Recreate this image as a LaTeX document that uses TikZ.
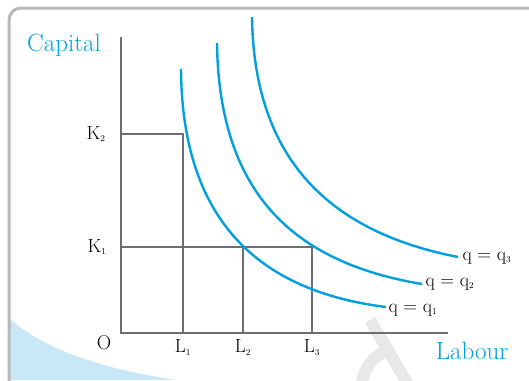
\documentclass[tikz,border=0pt]{standalone}
\usepackage{amsmath}
\usepackage{tikz}
\usetikzlibrary{calc}

\definecolor{isoblue}{RGB}{0,160,222}
\definecolor{axisgray}{RGB}{110,110,114}
\definecolor{swoosh}{RGB}{200,232,248}

\tikzset{
    axis line/.style={axisgray, line width=2.4pt},
    iso curve/.style={isoblue, line width=2.4pt},
    axis label/.style={isoblue, font=\fontsize{25}{27}\selectfont},
    tick label/.style={font=\fontsize{19}{21}\selectfont},
    curve label/.style={font=\fontsize{19}{21}\selectfont, anchor=west}
}

\begin{document}
\begin{tikzpicture}[x=1pt, y=-1pt]

    \useasboundingbox (0,0) rectangle (529,380);

    % Panel background
    \fill[swoosh] (9,318) .. controls (45,350) and (100,368) .. (175,380) -- (9,380) -- cycle;
    \draw[gray!18, line width=12pt] (370,320) -- (409,386);
    \draw[gray!18, line width=12pt] (388,350) .. controls (372,357) and (364,368) .. (361,386);
    \draw[gray!55, line width=3pt, rounded corners=12pt] (9,384) -- (9,8) -- (535,8);

    % Axes
    \coordinate (O) at (121,333);
    \draw[axis line] (121,37) -- (O) -- (448,333);

    % Input levels
    \coordinate (K2) at (121,134);
    \coordinate (K1) at (121,247);
    \coordinate (L1) at (183,333);
    \coordinate (L2) at (243,333);
    \coordinate (L3) at (312,333);

    % Dropped lines
    \draw[axis line] (K2) -| (L1);
    \draw[axis line] (K1) -- (312,247) -- (L3);
    \draw[axis line] (243,247) -- (L2);

    % Isoquants
    \draw[iso curve] (181,69) .. controls (182,212) and (250,290) .. (386,307);
    \draw[iso curve] (217,43) .. controls (219,190) and (290,262) .. (422,284);
    \draw[iso curve] (252,17) .. controls (254,160) and (330,232) .. (458,257);

    % Labels
    \node[axis label] (capital) at (64,45) {Capital};
    \node[axis label] (labour) at (472,351) {Labour};
    \node[tick label, anchor=east] (k2lab) at (109,134) {K$_{\scriptscriptstyle 2}$};
    \node[tick label, anchor=east] (k1lab) at (110,247) {K$_{\scriptscriptstyle 1}$};
    \node[font=\fontsize{20}{22}\selectfont] (olab) at (104,343) {O};
    \node[tick label, below=3pt] (l1lab) at (L1) {L$_{\scriptscriptstyle 1}$};
    \node[tick label, below=3pt] (l2lab) at (L2) {L$_{\scriptscriptstyle 2}$};
    \node[tick label, below=3pt] (l3lab) at (L3) {L$_{\scriptscriptstyle 3}$};
    \node[curve label] (q1lab) at (385,310) {q = q$_{\scriptscriptstyle 1}$};
    \node[curve label] (q2lab) at (422,284) {q = q$_{\scriptscriptstyle 2}$};
    \node[curve label] (q3lab) at (459,258) {q = q$_{\scriptscriptstyle 3}$};

\end{tikzpicture}
\end{document}
